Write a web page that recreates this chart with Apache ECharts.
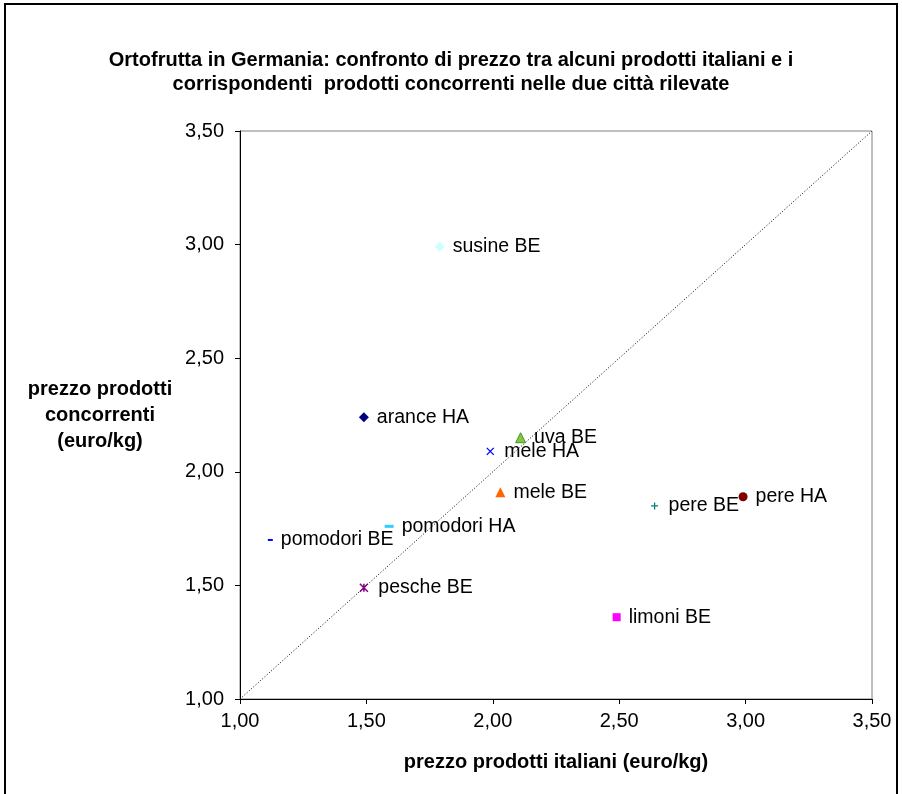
<!DOCTYPE html>
<html>
<head>
<meta charset="utf-8">
<script src="https://cdn.jsdelivr.net/npm/echarts@6/dist/echarts.min.js"></script>
<style>
html,body{margin:0;padding:0;background:#fff;}
#chart{width:902px;height:794px;}
</style>
</head>
<body>
<div id="chart"></div>
<script>
// ---- data ----
var chartTitle = 'Ortofrutta in Germania: confronto di prezzo tra alcuni prodotti italiani e i\ncorrispondenti  prodotti concorrenti nelle due città rilevate';
var pointNames = ['susine BE','arance HA','uva BE','mele HA','mele BE','pomodori HA','pomodori BE','pesche BE','pere BE','pere HA','limoni BE'];
var italianPrice = [1.79, 1.49, 2.11, 1.99, 2.03, 1.59, 1.12, 1.49, 2.64, 2.99, 2.49];
var competitorPrice = [2.99, 2.24, 2.15, 2.09, 1.91, 1.76, 1.70, 1.49, 1.85, 1.89, 1.36];
var axisTicks = [1.00, 1.50, 2.00, 2.50, 3.00, 3.50];
var diagonalRange = [1.00, 3.50];

// ---- styles (not data) ----
var pointStyles = [
  {symbol:'diamond', size:10, color:'#CCFFFF'},
  {symbol:'diamond', size:10, color:'#000080'},
  {symbol:'triangle', size:10, color:'#8CC63F', border:'#339933', bw:1},
  {symbol:'path://M0,0L10,10M10,0L0,10', size:7, color:'none', border:'#0000FF', bw:1.3},
  {symbol:'triangle', size:10, color:'#FF6600'},
  {symbol:'rect', size:[9,3], color:'#33CCFF'},
  {symbol:'rect', size:[5,2], color:'#0000FF'},
  {symbol:'path://M0,0L10,10M10,0L0,10M5,0L5,10', size:8, color:'none', border:'#800080', bw:1.5},
  {symbol:'path://M5,0L5,10M0,5L10,5', size:7, color:'none', border:'#008080', bw:1.3},
  {symbol:'circle', size:9, color:'#800000'},
  {symbol:'rect', size:8, color:'#FF00FF'}
];

var FONT = '"Liberation Sans", Arial, sans-serif';
function fmt(v){ return v.toFixed(2).replace('.', ','); }

var scatterData = pointNames.map(function(n, i){
  var s = pointStyles[i];
  return {
    name: n,
    value: [italianPrice[i], competitorPrice[i]],
    symbol: s.symbol,
    symbolSize: s.size,
    itemStyle: {color: s.color, borderColor: s.border || s.color, borderWidth: s.bw || 0, opacity: 1}
  };
});

var chart = echarts.init(document.getElementById('chart'), null, {renderer:'canvas'});
var option = {
  backgroundColor: '#ffffff',
  animation: false,
  graphic: [{
    type: 'rect',
    shape: {x: 5, y: 4, width: 892, height: 830},
    style: {fill: 'none', stroke: '#000', lineWidth: 2},
    silent: true, z: -1
  }, {
    type: 'text',
    x: 451, y: 48,
    style: {
      text: chartTitle,
      textAlign: 'center', textVerticalAlign: 'top',
      font: 'bold 20px ' + FONT, fill: '#000', lineHeight: 24
    },
    silent: true
  }],
  grid: {left: 240, right: 30, top: 131, bottom: 95, show: true, borderColor: '#808080', borderWidth: 1, backgroundColor: 'transparent'},
  xAxis: {
    type: 'value', min: axisTicks[0], max: axisTicks[axisTicks.length-1], interval: 0.5,
    name: 'prezzo prodotti italiani (euro/kg)', nameLocation: 'middle', nameGap: 63,
    nameTextStyle: {fontFamily: FONT, fontSize: 20, fontWeight: 'bold', color: '#000', verticalAlign: 'middle'},
    axisLine: {show: true, onZero: false, lineStyle: {color: '#000', width: 1}},
    axisTick: {show: true, inside: false, length: 5, lineStyle: {color: '#000'}},
    splitLine: {show: false},
    axisLabel: {fontFamily: FONT, fontSize: 20, color: '#000', margin: 12, formatter: fmt}
  },
  yAxis: {
    type: 'value', min: axisTicks[0], max: axisTicks[axisTicks.length-1], interval: 0.5,
    name: 'prezzo prodotti\nconcorrenti\n(euro/kg)', nameLocation: 'middle', nameGap: 140, nameRotate: 0,
    nameTextStyle: {fontFamily: FONT, fontSize: 20, fontWeight: 'bold', color: '#000', align: 'center', verticalAlign: 'middle', lineHeight: 26},
    axisLine: {show: true, onZero: false, lineStyle: {color: '#000', width: 1}},
    axisTick: {show: true, inside: false, length: 5, lineStyle: {color: '#000'}},
    splitLine: {show: false},
    axisLabel: {fontFamily: FONT, fontSize: 20, color: '#000', margin: 16, formatter: fmt}
  },
  series: [
    {
      type: 'line',
      data: [[diagonalRange[0], diagonalRange[0]], [diagonalRange[1], diagonalRange[1]]],
      symbol: 'none', silent: true,
      lineStyle: {color: '#000', width: 1, type: [1, 2], opacity: 1},
      z: 1
    },
    {
      type: 'scatter',
      data: scatterData,
      z: 3,
      itemStyle: {opacity: 1},
      label: {
        show: true, position: 'right', distance: 8,
        formatter: function(p){ return p.name; },
        fontFamily: FONT, fontSize: 19.5, color: '#000'
      }
    }
  ]
};
chart.setOption(option);
</script>
</body>
</html>
